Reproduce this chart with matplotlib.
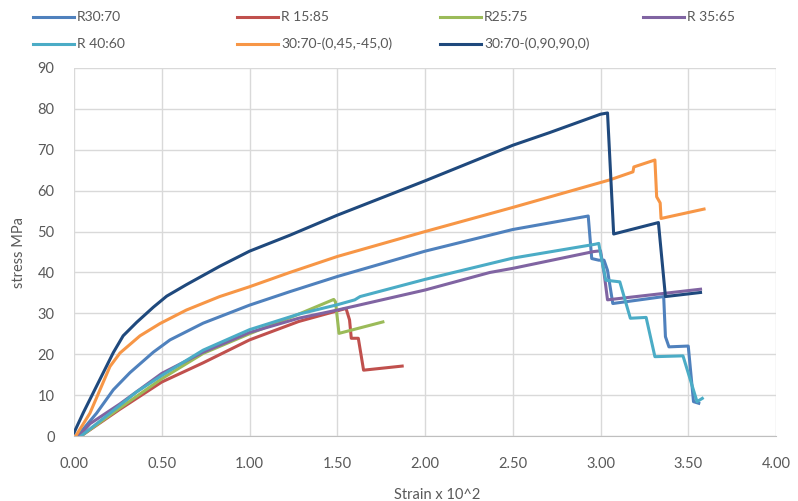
import matplotlib
matplotlib.use("Agg")
import matplotlib.pyplot as plt
from matplotlib.lines import Line2D

plt.rcParams['font.family'] = ['Lato', 'DejaVu Sans']

# ---- data (strain x 10^2, stress MPa) ----
r30_x = [0.02, 0.129, 0.224, 0.319, 0.452, 0.547, 0.736, 1.0, 1.23, 1.5, 2.0, 2.5, 2.93, 2.95, 2.99, 3.02, 3.04, 3.07, 3.36, 3.37, 3.39, 3.50, 3.53, 3.56]
r30_y = [0.0, 5.6, 11.3, 15.5, 20.5, 23.5, 27.6, 32.0, 35.3, 39.0, 45.2, 50.5, 53.8, 43.4, 43.0, 43.0, 40.5, 32.4, 34.1, 24.3, 21.8, 22.0, 8.4, 8.0]

r15_x = [0.04, 0.26, 0.5, 0.736, 1.0, 1.28, 1.55, 1.57, 1.58, 1.62, 1.65, 1.87]
r15_y = [0.0, 6.5, 13.2, 17.9, 23.5, 28.0, 31.2, 28.4, 23.9, 23.9, 16.1, 17.1]

r25_x = [0.04, 0.26, 0.5, 0.736, 1.0, 1.28, 1.48, 1.49, 1.51, 1.76]
r25_y = [0.0, 6.8, 14.0, 20.2, 25.0, 29.8, 33.4, 32.8, 25.1, 27.9]

r35_x = [0.03, 0.091, 0.26, 0.5, 0.736, 1.0, 1.28, 1.5, 2.0, 2.37, 2.5, 2.96, 3.0, 3.02, 3.04, 3.57]
r35_y = [0.0, 3.0, 7.8, 15.3, 20.5, 25.3, 28.8, 30.8, 35.7, 40.0, 41.0, 45.1, 45.3, 40.0, 33.3, 35.9]

r40_x = [0.04, 0.167, 0.357, 0.5, 0.736, 1.0, 1.28, 1.5, 1.60, 1.63, 2.0, 2.5, 2.97, 2.99, 3.0, 3.03, 3.11, 3.17, 3.26, 3.31, 3.47, 3.55, 3.58]
r40_y = [0.0, 4.3, 10.8, 14.8, 21.0, 26.0, 29.8, 32.1, 33.3, 34.1, 38.3, 43.5, 46.9, 47.1, 44.7, 38.1, 37.7, 28.8, 29.0, 19.4, 19.6, 8.4, 9.2]

o45_x = [0.01, 0.091, 0.148, 0.205, 0.262, 0.319, 0.376, 0.49, 0.64, 0.83, 1.0, 1.23, 1.5, 2.0, 2.5, 3.05, 3.185, 3.19, 3.31, 3.32, 3.34, 3.345, 3.59]
o45_y = [0.0, 5.6, 11.3, 17.0, 20.3, 22.4, 24.5, 27.5, 30.8, 34.1, 36.5, 40.0, 43.9, 50.0, 55.9, 62.6, 64.6, 65.8, 67.5, 58.5, 57.0, 53.2, 55.5]

o90_x = [0.0, 0.053, 0.11, 0.167, 0.224, 0.28, 0.357, 0.452, 0.528, 0.64, 0.83, 1.0, 1.23, 1.5, 2.0, 2.5, 2.71, 3.0, 3.04, 3.075, 3.33, 3.37, 3.57]
o90_y = [0.8, 5.7, 10.6, 15.5, 20.4, 24.5, 27.8, 31.5, 34.2, 37.0, 41.5, 45.2, 49.1, 54.0, 62.4, 71.1, 74.2, 78.7, 79.0, 49.4, 52.2, 34.1, 35.1]

labels = ["R30:70", "R 15:85", "R25:75", "R 35:65", "R 40:60", "30:70-(0,45,-45,0)", "30:70-(0,90,90,0)"]
colors = ["#4F81BD", "#C0504D", "#9BBB59", "#8064A2", "#4BACC6", "#F79646", "#1F497D"]
series = [(r30_x, r30_y), (r15_x, r15_y), (r25_x, r25_y), (r35_x, r35_y),
          (r40_x, r40_y), (o45_x, o45_y), (o90_x, o90_y)]

xticks = [0.0, 0.5, 1.0, 1.5, 2.0, 2.5, 3.0, 3.5, 4.0]
yticks = [0, 10, 20, 30, 40, 50, 60, 70, 80, 90]

W, H = 798, 501
fig = plt.figure(figsize=(W / 100, H / 100), dpi=100)
ax = fig.add_axes([74 / W, (H - 436) / H, (776 - 74) / W, (436 - 68) / H])

for (xs, ys), c, lab in zip(series, colors, labels):
    ax.plot(xs, ys, color=c, lw=2.2, label=lab, solid_joinstyle='round')

ax.set_xlim(0, 4.0)
ax.set_ylim(0, 90)
ax.set_xticks(xticks)
ax.set_xticklabels([f"{v:.2f}" for v in xticks])
ax.set_yticks(yticks)
ax.grid(True, color="#D9D9D9", lw=1)
ax.set_axisbelow(True)
for s in ["top", "right", "left"]:
    ax.spines[s].set_visible(False)
ax.spines["bottom"].set_color("#BFBFBF")
ax.tick_params(length=0, labelsize=10.5, colors="#595959")
ax.tick_params(axis='x', pad=15)
ax.tick_params(axis='y', pad=14)

ax.set_ylabel("stress MPa", fontsize=10.5, color="#595959", labelpad=8)
fig.text(437 / W, 1 - 495 / H, "Strain x 10^2", ha="center", va="center",
         fontsize=10.5, color="#595959")

# manual legend, row-major like the reference
col_x = [33, 237, 440, 643]
row_y = [17, 44]
for i, (lab, c) in enumerate(zip(labels, colors)):
    r, k = divmod(i, 4)
    x0 = col_x[k]
    y = 1 - row_y[r] / H
    fig.add_artist(Line2D([x0 / W, (x0 + 41) / W], [y, y], color=c, lw=2.2,
                          transform=fig.transFigure))
    fig.text((x0 + 44) / W, y, lab, ha="left", va="center", fontsize=10,
             color="#595959")

fig.savefig("out.png", dpi=100)
